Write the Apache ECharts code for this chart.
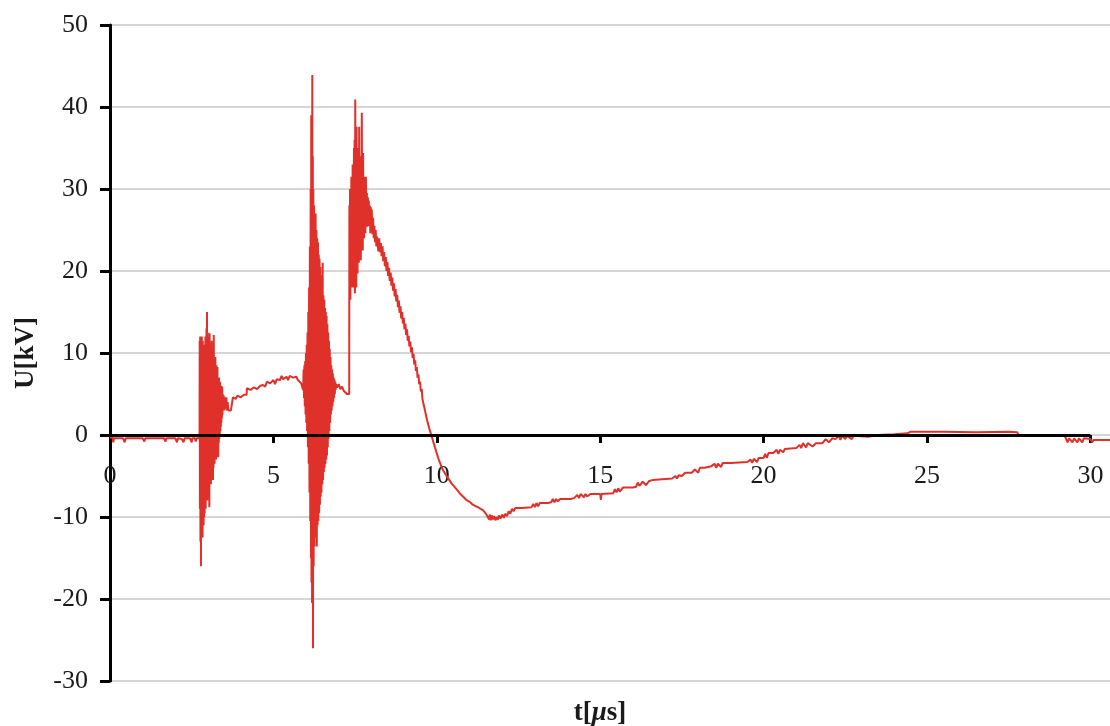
<!DOCTYPE html>
<html>
<head>
<meta charset="utf-8">
<script src="https://cdn.jsdelivr.net/npm/echarts@6/dist/echarts.min.js"></script>
<style>
  html, body { margin: 0; padding: 0; background: #fff; }
  #chart { width: 1110px; height: 726px; }
</style>
</head>
<body>
<div id="chart"></div>
<script>
// Voltage transient U(t), t in microseconds, U in kV

const xTicks = [0, 5, 10, 15, 20, 25, 30];
const yTicks = [-30, -20, -10, 0, 10, 20, 30, 40, 50];

// quiet baseline before the first discharge
const baseline = [
  [0,-0.3],[0.08,-0.3],[0.1,-0.9],[0.12,-0.4],[0.4,-0.4],[0.45,-0.9],[0.48,-0.4],
  [1.0,-0.4],[1.05,-0.8],[1.08,-0.4],[1.65,-0.4],[1.7,-0.8],[1.72,-0.4],[2.0,-0.4],
  [2.05,-0.9],[2.08,-0.4],[2.2,-0.5],[2.25,-0.9],[2.28,-0.4],[2.45,-0.4],[2.5,-0.9],
  [2.52,-0.4],[2.6,-0.4],[2.62,-0.8],[2.65,-0.4],[2.74,-0.4]
];

// first oscillation burst
const burstA = [
  [2.745,11.5],[2.752,-9],[2.76,12],[2.768,-13],[2.776,10.5],[2.784,-16],[2.792,11.5],
  [2.8,-12],[2.808,12],[2.816,-11],[2.824,10],[2.832,-12.5],[2.84,11.5],[2.848,-10],
  [2.856,10.8],[2.864,-11],[2.872,9.5],[2.88,-10],[2.888,11],[2.896,-9.5],[2.904,10],
  [2.912,-8.5],[2.92,12],[2.928,-9],[2.936,10.5],[2.944,-8],[2.952,13],[2.96,-7.5],
  [2.968,15],[2.976,-8],[2.984,12.5],[2.992,-7],[3.0,11],[3.008,-7.5],[3.016,12],
  [3.024,-6.5],[3.032,10.5],[3.04,-8.8],[3.048,12.4],[3.056,-6],[3.064,11],[3.072,-5.5],
  [3.08,10],[3.088,-6],[3.096,9.5],[3.104,-5],[3.112,11.5],[3.12,-5.5],[3.128,9],
  [3.136,-4.5],[3.144,10.5],[3.152,-5.5],[3.16,9.5],[3.168,-4],[3.176,12.2],[3.184,-3.5],
  [3.192,9],[3.2,-3.5],[3.208,8.5],[3.216,-3],[3.224,9.5],[3.232,-2.5],[3.24,8],
  [3.248,-3],[3.256,8.5],[3.264,-2],[3.272,7.5],[3.28,-2.5],[3.288,8.3],[3.296,-1.5],
  [3.304,7],[3.312,-2.7],[3.32,6.5],[3.328,-1],[3.336,7],[3.344,-0.5],[3.352,6],
  [3.36,0],[3.368,6.5],[3.376,0.5],[3.384,5.5],[3.392,1],[3.4,6],[3.408,1.5],
  [3.416,5],[3.424,2],[3.432,5.9],[3.44,2.5],[3.45,5],[3.46,3],[3.48,4.8],[3.5,3],
  [3.52,4.6],[3.54,3.2],[3.56,4.6],[3.58,3],[3.6,4],[3.62,3],[3.65,3],[3.68,3.2]
];

// slowly rising plateau between the bursts
const plateau = [
  [3.7,3.0],[3.75,3.1],[3.76,4.6],[3.85,4.4],[3.9,4.8],[4.0,4.6],[4.1,4.9],[4.18,4.9],
  [4.19,5.7],[4.3,5.5],[4.4,5.8],[4.5,5.6],[4.6,6.0],[4.68,6.1],[4.75,5.9],[4.8,6.5],
  [4.9,6.3],[5.0,6.7],[5.05,6.2],[5.1,6.8],[5.2,6.7],[5.25,7.2],[5.3,6.8],[5.4,7.1],
  [5.45,6.7],[5.5,7.2],[5.6,7.0],[5.7,7.1],[5.75,6.7],[5.8,6.9],[5.85,6.3],[5.9,6.5]
];

// second oscillation burst
const burstB = [
  [5.912,5.5],[5.924,8.0],[5.936,4.5],[5.948,8.5],[5.96,3.5],[5.972,9.0],[5.984,2.5],
  [5.996,10.0],[6.008,1.5],[6.02,11.0],[6.032,0.5],[6.044,12.5],[6.056,-1.5],[6.068,15.0],
  [6.08,-3.5],[6.092,18.0],[6.104,-7.0],[6.116,23.0],[6.128,-10.5],[6.14,30.0],[6.152,-15.0],
  [6.158,39.0],[6.166,-18.0],[6.176,32.0],[6.184,-20.5],[6.19,43.9],[6.198,-17.0],[6.206,34.0],
  [6.212,-26.0],[6.222,30.0],[6.232,-16.0],[6.244,28.0],[6.256,-13.6],[6.268,26.5],[6.28,-11.6],
  [6.292,27.0],[6.304,-12.5],[6.316,25.0],[6.328,-13.6],[6.34,24.0],[6.352,-11.0],[6.364,23.5],
  [6.376,-10.5],[6.388,22.0],[6.4,-9.5],[6.412,21.5],[6.424,-8.5],[6.436,20.5],[6.448,-7.5],
  [6.46,19.5],[6.472,-7.0],[6.484,18.5],[6.496,-6.0],[6.508,21.0],[6.52,-5.5],[6.532,17.0],
  [6.544,-4.5],[6.556,16.5],[6.568,-4.0],[6.58,15.5],[6.592,-3.5],[6.604,15.0],[6.616,-3.0],
  [6.628,14.5],[6.64,-2.5],[6.652,13.5],[6.664,-1.5],[6.676,12.5],[6.688,-0.5],[6.7,11.5],
  [6.712,0.5],[6.724,10.5],[6.736,1.5],[6.748,9.5],[6.76,2.5],[6.772,8.5],[6.784,3.0],
  [6.796,8.0],[6.808,3.5],[6.82,7.5],[6.832,4.0],[6.844,7.0],[6.856,4.5],[6.868,6.8],
  [6.88,5.0],[6.892,6.5],[6.904,5.5],[6.92,6.2]
];

// short shelf before the main rise
const shelf = [
  [6.95,5.8],[7.0,6.2],[7.05,5.6],[7.1,5.9],[7.15,5.4],[7.2,5.2],[7.25,5.0],[7.3,4.9],[7.32,5.0]
];

// noisy crest of the main pulse
const crest = [
  [7.325,28.0],[7.335,19],[7.345,30],[7.355,16.5],[7.365,29],[7.375,18],[7.385,31.5],
  [7.395,20],[7.405,30],[7.415,18.5],[7.425,33],[7.435,18],[7.445,31],[7.455,21],
  [7.465,35],[7.475,19],[7.485,36],[7.495,17.3],[7.505,40.9],[7.515,20],[7.525,34],
  [7.535,18],[7.545,37.6],[7.555,21],[7.565,33],[7.575,19.7],[7.585,35],[7.595,22],
  [7.605,32],[7.615,21],[7.625,37.6],[7.635,23],[7.645,31],[7.655,22],[7.665,34],
  [7.675,21.3],[7.685,30],[7.695,23],[7.705,39.3],[7.715,24],[7.725,32],[7.735,22.5],
  [7.745,34.4],[7.755,25],[7.765,30],[7.775,24],[7.785,31.5],[7.795,26],[7.805,29],
  [7.815,24.6],[7.83,31.5],[7.845,26],[7.86,29.5],[7.875,25.4],[7.89,29],[7.905,26.5],
  [7.92,28.6],[7.935,25.5],[7.95,28],[7.965,24.6],[7.98,27.8],[7.995,25],[8.01,27.5],
  [8.03,24.5],[8.05,26.5],[8.07,24],[8.09,25.5],[8.11,23.5],[8.13,25],[8.15,23],[8.17,24.2]
];

// falling tail of the main pulse down through zero
const fall = [
  [8.2,24],[8.21,22.4],[8.24,24],[8.26,22.3],[8.29,23.4],[8.31,21.8],[8.34,23],[8.36,21.2],
  [8.39,22.3],[8.41,20.6],[8.44,21.7],[8.46,20.0],[8.49,21.1],[8.51,19.4],[8.54,20.4],
  [8.56,18.8],[8.59,19.8],[8.61,18.2],[8.64,19.2],[8.66,17.6],[8.69,18.5],[8.71,16.9],
  [8.74,17.8],[8.76,16.3],[8.79,17.1],[8.81,15.6],[8.84,16.4],[8.86,14.9],[8.89,15.7],
  [8.91,14.2],[8.94,15.0],[8.96,13.6],[8.99,14.3],[9.01,12.9],[9.04,13.6],[9.06,12.2],
  [9.09,12.9],[9.11,11.5],[9.14,12.1],[9.16,10.8],[9.19,11.4],[9.21,10.1],[9.24,10.7],
  [9.26,9.4],[9.29,9.9],[9.31,8.6],[9.34,9.1],[9.36,7.8],[9.39,8.3],[9.41,7.0],[9.44,7.4],
  [9.46,6.2],[9.49,6.5],[9.51,5.3],[9.54,5.6],[9.56,4.4],[9.59,4.6],[9.61,3.5],[9.64,3.6],
  [9.66,2.6],[9.69,2.6],[9.71,1.7],[9.74,1.6],[9.77,0.8],[9.8,0.7],[9.83,0.0]
];

// negative undershoot and slow recovery
const recovery = [
  [9.86,-0.4],[9.95,-1.6],[10.05,-2.9],[10.12,-3.6],[10.19,-4.3],[10.3,-5.0],[10.4,-5.6],
  [10.45,-5.9],[10.5,-6.1],[10.62,-6.7],[10.7,-7.1],[10.8,-7.5],[10.9,-7.9],[11.02,-8.2],
  [11.1,-8.5],[11.2,-8.7],[11.3,-8.9],[11.42,-9.2],[11.5,-9.6],[11.55,-9.9],[11.6,-10.3],
  [11.62,-9.7],[11.65,-10.4],[11.68,-9.8],[11.72,-10.3],[11.75,-9.9],[11.8,-10.4],
  [11.83,-10.0],[11.87,-10.3],[11.9,-9.8],[11.95,-10.2],[12.0,-9.7],[12.05,-10.1],
  [12.1,-9.6],[12.15,-9.9],[12.2,-9.3],[12.25,-9.6],[12.3,-9.0],[12.35,-9.3],[12.4,-8.9],
  [12.6,-8.9],[12.9,-8.8],[12.95,-8.4],[13.0,-8.8],[13.05,-8.3],[13.1,-8.7],[13.15,-8.3],
  [13.4,-8.3],[13.5,-8.2],[13.55,-7.8],[13.6,-8.2],[13.65,-7.8],[13.7,-8.1],[13.77,-7.8],
  [14.1,-7.8],[14.2,-7.7],[14.3,-7.3],[14.35,-7.7],[14.4,-7.2],[14.5,-7.6],[14.55,-7.2],
  [14.6,-7.5],[14.7,-7.2],[15.0,-7.2],[15.02,-7.9],[15.04,-7.2],[15.4,-7.1],[15.45,-6.6],
  [15.5,-7.0],[15.55,-6.5],[15.6,-6.9],[15.7,-6.4],[16.0,-6.4],[16.1,-6.3],[16.15,-5.8],
  [16.2,-6.2],[16.3,-5.7],[16.4,-6.1],[16.5,-5.6],[16.6,-5.5],[17.2,-5.3],[17.3,-5.0],
  [17.35,-5.3],[17.4,-4.9],[17.5,-5.0],[17.6,-4.6],[17.8,-4.6],[17.9,-4.2],[18.0,-4.6],
  [18.05,-4.0],[18.2,-4.0],[18.4,-3.8],[18.5,-3.5],[18.55,-4.0],[18.6,-3.5],[18.7,-3.9],
  [18.75,-3.4],[19.0,-3.4],[19.5,-3.3],[19.6,-3.0],[19.65,-3.4],[19.7,-2.9],[19.8,-3.3],
  [19.85,-2.8],[20.0,-2.8],[20.05,-2.3],[20.1,-2.8],[20.15,-2.2],[20.3,-2.2],[20.4,-1.8],
  [20.45,-2.3],[20.5,-1.8],[20.6,-2.1],[20.65,-1.7],[21.0,-1.6],[21.1,-1.2],[21.15,-1.6],
  [21.2,-1.0],[21.3,-1.5],[21.35,-1.0],[21.5,-1.4],[21.6,-1.0],[21.8,-1.0],[21.9,-0.5],
  [22.0,-0.9],[22.1,-0.4]
];

// settling to zero
const tail = [
  [22.2,-0.5],[22.3,-0.1],[22.35,-0.6],[22.4,-0.1],[22.5,-0.5],[22.55,-0.1],[22.7,-0.5],
  [22.75,-0.1],[23.2,-0.2],[23.5,0],[24.0,0.1],[24.4,0.2],[24.5,0.4],[25.5,0.4],[26.5,0.35],
  [27.5,0.4],[27.76,0.35],[27.8,0],[28.5,0],[29.2,0],[29.25,-0.4],[29.3,-0.9],[29.35,-0.4],
  [29.45,-0.9],[29.5,-0.4],[29.6,-0.9],[29.65,-0.4],[29.75,-0.9],[29.8,-0.4],[30.0,-0.5],
  [30.05,-0.9],[30.1,-0.6],[30.6,-0.6]
];

const waveform = [].concat(baseline, burstA, plateau, burstB, shelf, crest, fall, recovery, tail);

const serif = 'Liberation Serif';
const ink = '#1a1a1a';

const chart = echarts.init(document.getElementById('chart'), null, { renderer: 'canvas' });

chart.setOption({
  animation: false,
  backgroundColor: '#ffffff',
  grid: { left: 110, right: 0, top: 25, bottom: 45, containLabel: false, outerBoundsMode: 'none' },
  xAxis: {
    type: 'value',
    min: 0,
    max: 30.6,
    interval: 5,
    // kept on U = 0; the visible black line is the mark line below (0..30 only)
    axisLine: { show: true, onZero: true, lineStyle: { color: '#000', width: 3, opacity: 0 } },
    axisTick: {
      show: true, length: 8, customValues: xTicks,
      lineStyle: { color: '#000', width: 3 }
    },
    // labels sit at the plot's lower edge; a negative margin lifts them just under U = 0
    axisLabel: {
      customValues: xTicks,
      fontFamily: serif, fontSize: 26, color: ink, margin: -218
    },
    splitLine: { show: false },
    name: '{a|t[}{b|μ}{a|s]}',
    nameLocation: 'middle',
    nameGap: 19,
    nameTextStyle: {
      padding: [0, 20, 0, 0],
      rich: {
        a: { fontFamily: serif, fontSize: 27, fontWeight: 'bold', color: ink },
        b: { fontFamily: serif, fontSize: 27, fontWeight: 'bold', fontStyle: 'italic', color: ink }
      }
    }
  },
  yAxis: {
    type: 'value',
    min: -30,
    max: 50,
    interval: 10,
    axisLine: { show: true, onZero: false, lineStyle: { color: '#000', width: 3 } },
    axisTick: { show: true, length: 10, lineStyle: { color: '#000', width: 3 } },
    axisLabel: { fontFamily: serif, fontSize: 26, color: ink, margin: 22 },
    splitLine: { show: true, lineStyle: { color: '#c8c8c8', width: 1.5 } },
    name: 'U[kV]',
    nameLocation: 'middle',
    nameGap: 70,
    nameTextStyle: { fontFamily: serif, fontSize: 27, fontWeight: 'bold', color: ink }
  },
  series: [
    {
      // horizontal time axis drawn at U = 0, spanning 0..30 µs
      name: 'zero',
      type: 'line',
      data: [],
      z: 1,
      silent: true,
      markLine: {
        silent: true,
        symbol: ['none', 'none'],
        label: { show: false },
        lineStyle: { color: '#000', width: 3, type: 'solid' },
        data: [[{ coord: [xTicks[0], 0] }, { coord: [xTicks[xTicks.length - 1], 0] }]]
      }
    },
    {
      name: 'U',
      type: 'line',
      data: waveform,
      z: 3,
      showSymbol: false,
      sampling: 'none',
      lineStyle: { color: '#e0302a', width: 2 }
    }
  ]
});
</script>
</body>
</html>
